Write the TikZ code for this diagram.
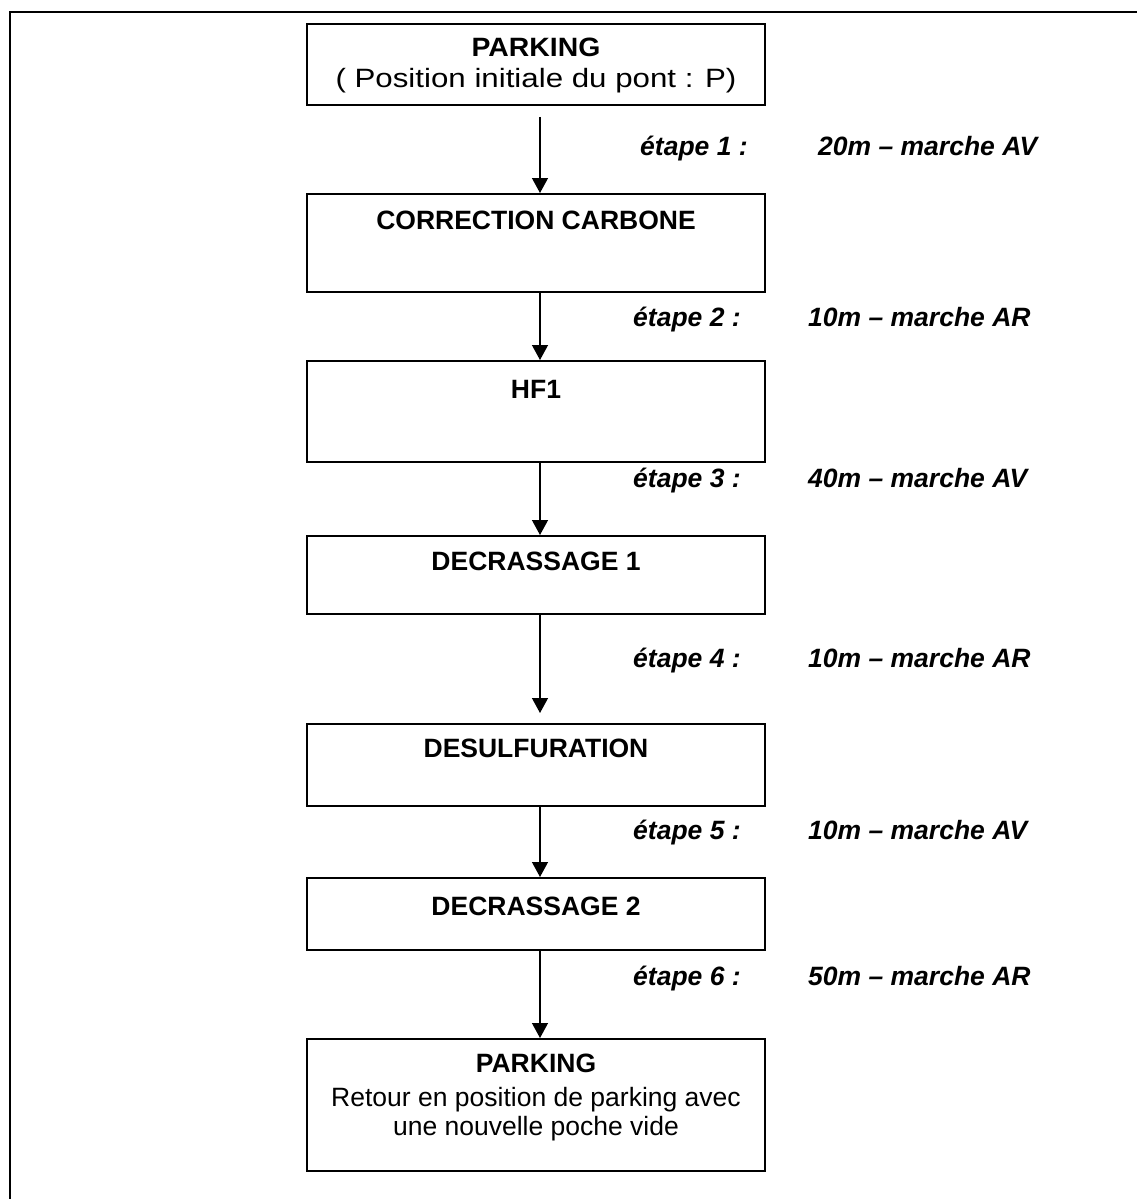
\documentclass[tikz,border=0pt]{standalone}
\usepackage{fontspec}
\setmainfont{Liberation Sans}
\usetikzlibrary{arrows.meta}
\begin{document}
\begin{tikzpicture}[x=1pt,y=-1pt,
  box/.style={draw, line width=1.8pt, minimum width=458pt, inner sep=0pt, anchor=north},
  txt/.style={inner sep=0pt, anchor=base, font=\fontsize{26.5}{31}\selectfont},
  btxt/.style={txt, font=\fontsize{26.5}{31}\selectfont\bfseries},
  lab/.style={inner sep=0pt, anchor=base west, font=\fontsize{26.5}{31}\selectfont\bfseries\itshape},
  arr/.style={line width=1.3pt, -{Triangle[width=16pt,length=15pt]}},
  frame/.style={line width=2.6pt}]
\useasboundingbox (0,0) rectangle (1137,1199);
% outer frame (top and left edges)
\coordinate (fl) at (10,1199);
\coordinate (fc) at (10,12);
\coordinate (fr) at (1137,12);
\draw[frame] (fl) -- (fc) -- (fr);
% boxes
\node[box, minimum height=81pt]  (b1) at (536,23)   {};
\node[box, minimum height=98pt]  (b2) at (536,193)  {};
\node[box, minimum height=101pt] (b3) at (536,360)  {};
\node[box, minimum height=78pt]  (b4) at (536,535)  {};
\node[box, minimum height=82pt]  (b5) at (536,723)  {};
\node[box, minimum height=72pt]  (b6) at (536,877)  {};
\node[box, minimum height=132pt] (b7) at (536,1038) {};
% box texts
\node[btxt] (t1a) at (536,57) {\scalebox{1.07}[1]{PARKING}};
\node[txt]  (t1b) at (536,87) {\scalebox{1.18}[1]{( Position initiale du pont : P)}};
\node[btxt] (t2) at (536,229) {CORRECTION CARBONE};
\node[btxt] (t3) at (536,398) {HF1};
\node[btxt] (t4) at (536,570) {DECRASSAGE 1};
\node[btxt] (t5) at (536,757) {DESULFURATION};
\node[btxt] (t6) at (536,915) {DECRASSAGE 2};
\node[btxt] (t7a) at (536,1072) {PARKING};
\node[txt]  (t7b) at (536,1106) {Retour en position de parking avec};
\node[txt]  (t7c) at (536,1135) {une nouvelle poche vide};
% connectors
\draw[arr, shorten <=11pt] ([xshift=4pt]b1.south) -- ([xshift=4pt]b2.north);
\draw[arr] ([xshift=4pt]b2.south) -- ([xshift=4pt]b3.north);
\draw[arr] ([xshift=4pt]b3.south) -- ([xshift=4pt]b4.north);
\draw[arr, shorten >=10pt] ([xshift=4pt]b4.south) -- ([xshift=4pt]b5.north);
\draw[arr] ([xshift=4pt]b5.south) -- ([xshift=4pt]b6.north);
\draw[arr] ([xshift=4pt]b6.south) -- ([xshift=4pt]b7.north);
% step labels
\node[lab] (e1) at (640,155) {étape 1 :};
\node[lab] (v1) at (818,155) {20m \textendash{} marche AV};
\node[lab] (e2) at (633,326) {étape 2 :};
\node[lab] (v2) at (808,326) {10m \textendash{} marche AR};
\node[lab] (e3) at (633,487) {étape 3 :};
\node[lab] (v3) at (808,487) {40m \textendash{} marche AV};
\node[lab] (e4) at (633,667) {étape 4 :};
\node[lab] (v4) at (808,667) {10m \textendash{} marche AR};
\node[lab] (e5) at (633,839) {étape 5 :};
\node[lab] (v5) at (808,839) {10m \textendash{} marche AV};
\node[lab] (e6) at (633,985) {étape 6 :};
\node[lab] (v6) at (808,985) {50m \textendash{} marche AR};
\end{tikzpicture}
\end{document}
